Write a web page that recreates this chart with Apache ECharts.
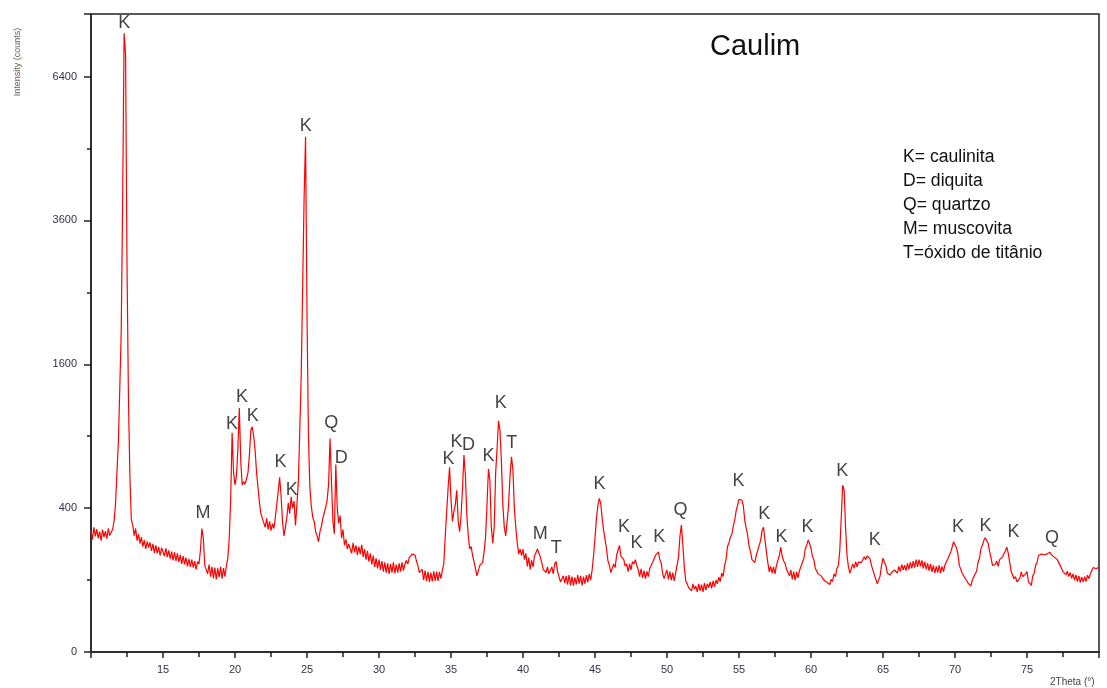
<!DOCTYPE html>
<html>
<head>
<meta charset="utf-8">
<script src="https://cdn.jsdelivr.net/npm/echarts@6/dist/echarts.min.js"></script>
<style>
html,body{margin:0;padding:0;background:#fff;}
#c{width:1107px;height:688px;}
</style>
</head>
<body>
<div id="c"></div>
<script>
// 2Theta sampling grid (degrees)
const THETA_START = 10.0;
const THETA_STEP = 0.1;

// Intensity (counts), one row per degree, 10.0 .. 80.0
const intensity = [
 285,245,300,258,292,250,280,240,290,255,
 282,248,295,262,270,290,330,420,620,850,
 1350,2000,4000,7400,6900,2900,1250,600,340,310,
 262,295,240,268,228,255,215,242,205,236,
 212,232,198,226,190,220,188,214,180,210,
 205,178,208,174,200,168,195,162,192,160,
 188,156,182,150,178,148,172,142,168,140,
 165,138,160,132,158,150,200,295,250,145,
 150,118,148,110,140,105,138,102,135,108,
 140,104,136,110,142,170,250,450,930,620,
 540,600,800,1150,700,540,560,545,580,620,
 750,950,980,900,780,620,520,430,370,345,
 340,300,345,290,330,285,318,295,350,420,
 500,590,470,330,260,300,350,430,370,465,
 400,440,310,420,560,950,1500,2600,4000,5130,
 2200,900,520,410,350,330,280,262,235,280,
 305,345,355,405,445,545,880,560,330,270,
 680,400,320,360,250,290,220,245,205,225,
 225,188,230,192,220,182,215,185,222,175,
 205,165,198,158,188,148,180,140,170,135,
 165,130,160,125,155,122,152,118,150,122,
 155,120,148,122,152,125,155,128,150,162,
 150,172,165,185,190,182,160,145,122,128,
 132,100,128,98,124,95,122,96,126,98,
 125,98,124,104,130,150,260,380,520,660,
 450,330,380,420,506,330,280,360,520,750,
 600,360,260,205,215,180,178,135,112,128,
 145,140,155,195,255,420,647,570,300,229,
 300,620,800,1034,950,700,420,300,260,330,
 420,600,736,640,400,300,230,185,205,180,
 205,165,188,142,172,132,162,140,178,190,
 205,213,175,155,132,138,122,140,118,128,
 140,118,150,158,125,122,95,90,112,92,
 112,88,114,86,110,85,108,88,114,90,
 112,86,110,90,114,94,118,100,130,180,
 250,345,415,456,425,345,285,245,205,160,
 145,122,128,150,138,180,200,220,178,172,
 165,142,150,125,150,130,158,150,165,145,
 132,110,134,106,128,104,126,110,134,145,
 155,150,180,178,194,165,152,118,104,118,
 130,102,125,100,122,98,120,122,175,260,
 311,220,140,98,90,80,84,72,90,76,
 84,70,90,72,88,70,92,74,90,80,
 95,78,98,82,100,90,108,96,120,110,
 145,165,215,230,255,268,305,335,385,415,
 450,456,445,415,335,295,265,215,195,165,
 170,155,180,185,220,240,285,301,245,195,
 155,124,142,120,140,118,145,148,180,213,
 178,160,152,132,135,112,130,102,125,100,
 124,106,128,125,155,168,205,220,242,228,
 208,176,165,135,134,118,124,112,110,100,
 104,94,98,88,102,96,118,110,135,145,
 200,350,538,510,300,180,140,120,135,150,
 135,158,140,156,155,155,162,175,165,178,
 172,168,145,140,115,110,90,95,112,145,
 170,155,145,120,115,115,122,120,130,125,
 120,142,125,148,130,146,128,152,132,155,
 135,160,138,165,140,165,142,162,135,158,
 132,152,128,150,124,145,120,142,122,145,
 120,142,125,146,148,168,172,192,212,235,
 242,210,185,145,140,120,125,105,110,92,
 96,84,100,102,118,126,155,170,205,220,
 240,252,240,228,196,172,145,140,148,160,
 142,165,160,175,176,198,213,188,155,125,
 126,104,110,95,100,105,124,110,114,118,
 125,96,98,86,112,120,145,155,180,182,
 186,180,182,178,186,184,192,182,180,174,
 176,165,165,145,142,125,130,115,126,110,
 122,105,118,100,115,96,112,94,108,95,
 110,96,114,104,118,116,138,136,134,130,
 140
];

// Phase annotations
const peakLabel = ['K','K','M','K','K','K','K','K','Q','D','K','K','D','K','K','T','M','T','K','K','K','K','Q','K','K','K','K','K','K','K','K','K','Q'];
const peakTheta = [12.31,24.91,17.78,19.79,20.48,21.24,23.16,23.94,26.69,27.38,34.83,35.39,36.22,37.60,38.46,39.22,41.20,42.31,45.32,47.02,47.88,49.47,50.93,54.97,56.75,57.96,59.76,62.17,64.43,70.20,72.12,74.06,76.73];
const peakLabelCounts = [7640,5353,373,1004,1257,1076,697,506,1016,725,717,854,828,742,1195,841,268,207,545,300,228,256,389,566,367,256,300,635,242,300,308,279,249];

// Axis ticks
const yTickLabels = [0,400,1600,3600,6400];
const xMin = 10, xMax = 80, xInterval = 5;
const yMaxCounts = 7868;

const legendLines = ['K= caulinita','D= diquita','Q= quartzo','M= muscovita','T=óxido de titânio'];
const chartTitle = 'Caulim';

const FONT = "'Liberation Sans', Arial, sans-serif";
const sq = v => Math.sqrt(v);

const lineData = intensity.map((v, i) => [+(THETA_START + i * THETA_STEP).toFixed(2), sq(v)]);
const labelData = peakLabel.map((t, i) => [peakTheta[i], sq(peakLabelCounts[i]), t]);

const chart = echarts.init(document.getElementById('c'), null, {renderer: 'canvas'});

const graphics = [
  {type:'text', left: 710, top: 32, style:{text: chartTitle, font: '29px ' + FONT, fill:'#111'}},
  {type:'text', rotation: Math.PI/2, x: 18, y: 62, style:{text:'Intensity (counts)', font:'9px ' + FONT, fill:'#6b5a4a', textAlign:'center', textVerticalAlign:'middle'}},
  {type:'text', left: 1050, top: 677, style:{text:'2Theta (°)', font:'10px ' + FONT, fill:'#444'}}
];
legendLines.forEach((t, i) => {
  graphics.push({type:'text', x: 903, y: 157 + i * 24, style:{text: t, font: '17.6px ' + FONT, fill:'#111', textVerticalAlign:'middle'}});
});

chart.setOption({
  animation: false,
  backgroundColor: '#fff',
  grid: {left: 91, right: 8, top: 14, bottom: 36, show: true, borderColor: '#222', borderWidth: 1.5},
  xAxis: {
    type: 'value', min: xMin, max: xMax, interval: xInterval,
    axisLine: {lineStyle: {color: '#222', width: 1.5}},
    axisTick: {length: 6, lineStyle: {color: '#222', width: 1.5}},
    minorTick: {show: true, splitNumber: 2, length: 5, lineStyle: {color: '#222', width: 1.5}},
    splitLine: {show: false}, minorSplitLine: {show: false},
    axisLabel: {showMinLabel: false, showMaxLabel: false, margin: 12, fontSize: 11, fontFamily: FONT, color: '#333344'}
  },
  yAxis: {
    type: 'value', min: 0, max: sq(yMaxCounts), interval: sq(yTickLabels[1]),
    axisLine: {show: true, lineStyle: {color: '#222', width: 1.5}},
    axisTick: {show: true, length: 7, lineStyle: {color: '#222', width: 1.5}},
    minorTick: {show: true, splitNumber: 2, length: 4, lineStyle: {color: '#222', width: 1.5}},
    splitLine: {show: false}, minorSplitLine: {show: false},
    axisLabel: {showMaxLabel: false, margin: 14, fontSize: 11, fontFamily: FONT, color: '#333344',
      formatter: v => String(Math.round(v * v))}
  },
  graphic: graphics,
  series: [
    {
      type: 'line', data: lineData, showSymbol: false, symbol: 'none', sampling: null,
      lineStyle: {color: '#ff0000', width: 1.2}, silent: true, z: 2
    },
    {
      type: 'scatter', data: labelData, symbolSize: 0, silent: true, z: 5,
      label: {show: true, position: 'inside', formatter: p => p.data[2], fontSize: 18, fontFamily: FONT, color: '#111'}
    }
  ]
});
</script>
</body>
</html>
